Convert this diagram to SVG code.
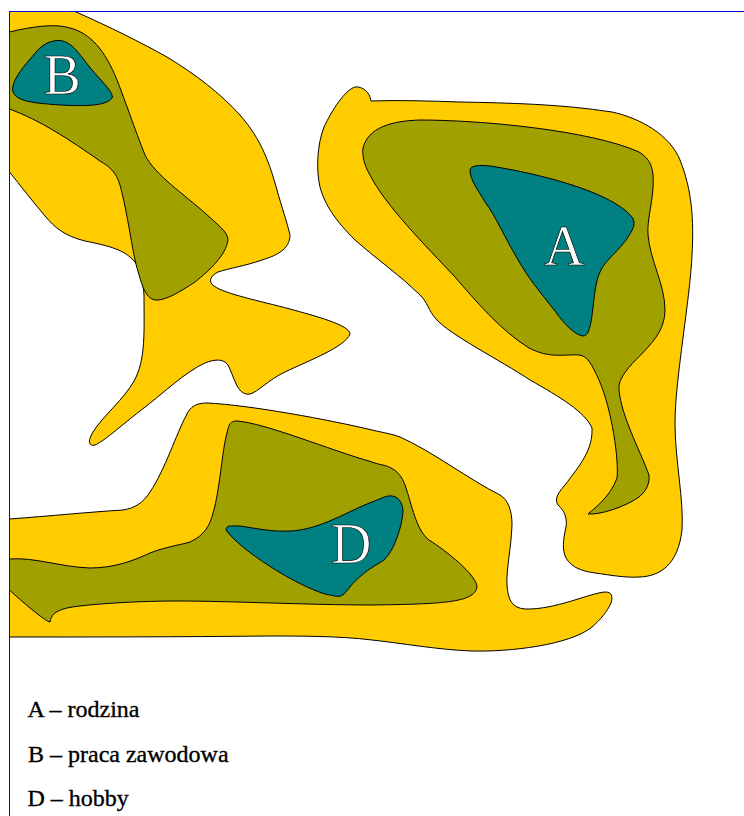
<svg xmlns="http://www.w3.org/2000/svg" width="744" height="816" viewBox="0 0 744 816">
<style>
.o{fill:#fc0;stroke:#000;stroke-width:1}
.m{fill:#a0a000;stroke:#000;stroke-width:1}
.i{fill:#008080;stroke:#000;stroke-width:1}
.l{font-family:"Liberation Serif",serif;font-size:56px;fill:#fff;stroke:#000;stroke-width:.7}
.t{font-family:"Liberation Serif",serif;font-size:24px;fill:#000;stroke:#000;stroke-width:.35}
.f{fill:none;stroke:#0000e0;stroke-width:1}
</style>
<g id="region-B">
<path class="o" d="M9.500 11.500L75 11.500C110 27 140 42 167 57C195 74 220 93 240 115C262 140 270 165 277 190C282 208 287 222 290 235C290 250 275 256 262 260C245 266 230 268 218 272C210 276 208 282 214 286C225 294 260 301 290 309C315 316 350 325 350 334C345 347 310 360 285 372C268 380 258 392 250 394C238 396 235 380 229 367C225 358 215 359 205 363C185 372 165 392 140 411C122 425 103 442 95 445C88 447 88 440 93 432C102 417 125 398 134 381C146 360 144 330 144 295C143 282 140 270 135 262C125 250 110 246 85 241C65 236 55 228 45 216C33 202 20 185 9.500 172Z"/>
<path class="m" d="M9.500 32C30 27 55 23 70 28C90 33 105 50 117 80C125 100 135 130 145 155C155 175 185 195 205 213C218 225 228 232 228 240C226 255 210 270 195 282C180 292 165 301 155 300C145 298 142 285 137 268C132 250 128 215 120 185C116 172 110 167 100 161C70 140 40 120 9.500 109Z"/>
<path class="i" d="M58 40.500C70 40 78 52 88 65C98 78 112 90 112.500 97C108 107 80 106 60 105C35 103 13 102 12.500 89C13 78 25 65 37 51C43 44 50 41 58 40.500Z"/>
<text class="l" x="43.500" y="94">B</text>
</g>
<g id="region-A">
<path class="o" d="M371 101C370 92 362 86 355 87C345 90 332 110 324 127C317 145 316 170 320 187C325 205 335 220 355 240C375 258 400 275 420 295C428 303 428 310 436 319C450 335 500 360 530 380C560 397 585 412 592 428C593 450 580 465 565 485C556 495 555 500 558 505C566 512 567 520 566 527C563 540 562 550 566 558C572 568 582 571 595 573C610 575 625 578 640 577C660 576 678 565 682 530C684 500 675 460 675 423C675 380 690 300 692 255C694 220 692 190 680 160C670 135 640 118 612 112C560 104 510 103 460 102C430 101 400 100 371 101Z"/>
<path class="m" d="M363 148C368 128 390 121 420 120C480 120 590 130 639 152C652 160 654 170 653 188C652 205 647 220 648 235C650 260 665 285 665 310C665 345 625 360 619 385C618 410 640 450 649 475C650 485 645 492 639 497C625 507 600 515 588 514C592 510 610 498 617 478C619 460 612 410 599 380C592 365 588 356 579 355C565 354 550 359 529 348C500 330 475 300 455 277C425 245 385 205 370 175C364 165 362 155 363 148Z"/>
<path class="i" d="M470 170C471 165 480 165 490 166C530 172 610 190 632 217C636 223 634 228 628 237C620 250 605 260 600 272C594 285 594 305 591 322C589 332 587 336 583 336C575 335 565 325 555 311C540 292 528 278 517 258C505 238 495 215 485 202C478 190 470 180 470 170Z"/>
<text class="l" x="544" y="265">A</text>
</g>
<g id="region-D">
<path class="o" d="M9.500 519C50 516 90 512 123 510C135 508 143 503 150 492C165 470 177 432 186 416C190 406 197 403 207 403C250 405 330 420 372 430C385 433 392 434 400 437C430 450 470 480 500 495C508 500 512 510 512 525C511 550 506 570 507 585C508 600 512 608 525 609C555 610 590 593 605 592C612 592 613 596 611 603C607 612 600 620 592 627C570 645 510 652 472 651C440 650 400 643 372 640C340 636 300 636 267 636C180 637 90 637 9.500 637Z"/>
<path class="m" d="M9.500 559C35 557 60 567 90 568C115 568 135 560 150 553C165 547 180 545 190 542C205 535 210 525 213 513C220 490 222 450 227 433C229 424 230 421 237 421C265 423 330 450 372 462C380 465 385 465 389 467C398 471 402 477 405 485C412 505 416 530 429 540C445 550 477 575 477 587C475 603 440 604 372 605C310 605 230 601 177 601C130 601 80 605 67 608C55 611 51 615 50 622C46 622 20 600 9.500 590Z"/>
<path class="i" d="M226 530C226 525 231 526 240 526C255 528 270 532 290 531C320 530 350 510 372 502C382 498 388 495 392 496C400 497 403 505 403 512C402 525 395 550 384 560C375 566 370 568 362 575C352 583 348 590 344 594C340 598 335 596 325 594C295 585 240 550 226 530Z"/>
<text class="l" x="331" y="563">D</text>
</g>
<g id="frame"><path class="f" d="M9.500 816V11.500H744"/></g>
<g id="legend">
<text class="t" x="27.500" y="717">A – rodzina</text>
<text class="t" x="28" y="762">B – praca zawodowa</text>
<text class="t" x="27.500" y="806">D – hobby</text>
</g>
</svg>
